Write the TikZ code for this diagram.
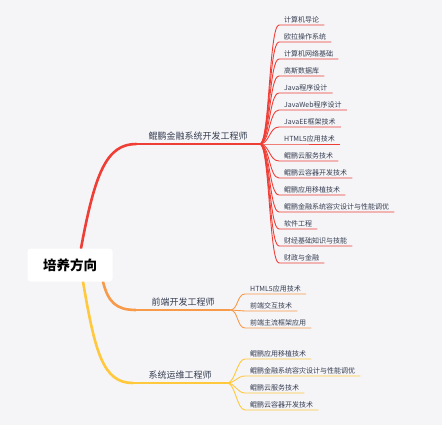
\documentclass[tikz,border=0pt]{standalone}
\usepackage{fontspec}
\newfontfamily\cjk{Noto Sans CJK SC}
\usetikzlibrary{positioning,backgrounds}
\definecolor{bg}{HTML}{F5F5F8}
\definecolor{redbr}{HTML}{EF3E36}
\definecolor{orangebr}{HTML}{F79A4A}
\definecolor{yellowbr}{HTML}{FFC83D}
\definecolor{ink}{HTML}{363D50}

\tikzset{
  leaf/.style={anchor=south west, font=\cjk\fontsize{7}{8}\selectfont, text=ink, inner xsep=5pt, inner ysep=2pt},
  branch/.style={anchor=south, font=\cjk\fontsize{9}{10}\selectfont, text=ink, inner xsep=12pt, inner ysep=4pt},
  trunk/.style={line width=2.6pt, line cap=round},
  bough/.style={line width=1.4pt},
  twig/.style={line width=0.9pt},
}

\begin{document}
\begin{tikzpicture}[x=1pt,y=-1pt]
  \begin{scope}[on background layer]
    \fill[bg] (0,0) rectangle (442,425);
  \end{scope}
  \useasboundingbox (0,0) rectangle (442,425);

  % root
  \node[fill=white, rounded corners=3pt, minimum width=85pt, minimum height=33pt,
        font=\cjk\bfseries\fontsize{13.5}{15}\selectfont, text=black] (root) at (70,265) {培养方向};

  % branches
  \node[branch] (devR) at (198,144) {鲲鹏金融系统开发工程师};
  \node[branch, minimum width=94pt] (devF) at (183,310) {前端开发工程师};
  \node[branch, minimum width=94pt] (opsY) at (180,383) {系统运维工程师};

  \begin{scope}[on background layer]
    \draw[trunk, redbr] ([xshift=11pt]root.north) .. controls +(14,-75) and +(-30,0) .. (devR.south west);
    \draw[trunk, orangebr] ([xshift=33pt]root.south) .. controls +(5,20) and +(-20,0) .. (devF.south west);
    \draw[trunk, yellowbr] ([xshift=13pt]root.south) .. controls +(12,70) and +(-30,0) .. (opsY.south west);
  \end{scope}
  \draw[bough, redbr] (devR.south west) -- (devR.south east);
  \draw[bough, orangebr] (devF.south west) -- (devF.south east);
  \draw[bough, yellowbr] (opsY.south west) -- (opsY.south east);

  % courses
  \foreach \txt [count=\i] in {计算机导论, 欧拉操作系统, 计算机网络基础, 高斯数据库, Java程序设计,
      JavaWeb程序设计, JavaEE框架技术, HTML5应用技术, 鲲鹏云服务技术, 鲲鹏云容器开发技术,
      鲲鹏应用移植技术, 鲲鹏金融系统容灾设计与性能调优, 软件工程, 财经基础知识与技能, 财政与金融} {
    \node[leaf] (r\i) at (279, {8+17*\i}) {\txt};
    \draw[twig, redbr] (devR.south east) .. controls +(10,0) and +(-10,0) .. (r\i.south west) -- (r\i.south east);
  }
  \foreach \txt [count=\i] in {HTML5应用技术, 前端交互技术, 前端主流框架应用} {
    \node[leaf] (f\i) at (245, {277+17*\i}) {\txt};
    \draw[twig, orangebr] (devF.south east) .. controls +(8,0) and +(-8,0) .. (f\i.south west) -- (f\i.south east);
  }
  \foreach \txt [count=\i] in {鲲鹏应用移植技术, 鲲鹏金融系统容灾设计与性能调优, 鲲鹏云服务技术, 鲲鹏云容器开发技术} {
    \node[leaf] (y\i) at (245, {342+17*\i}) {\txt};
    \draw[twig, yellowbr] (opsY.south east) .. controls +(8,0) and +(-8,0) .. (y\i.south west) -- (y\i.south east);
  }
\end{tikzpicture}
\end{document}
